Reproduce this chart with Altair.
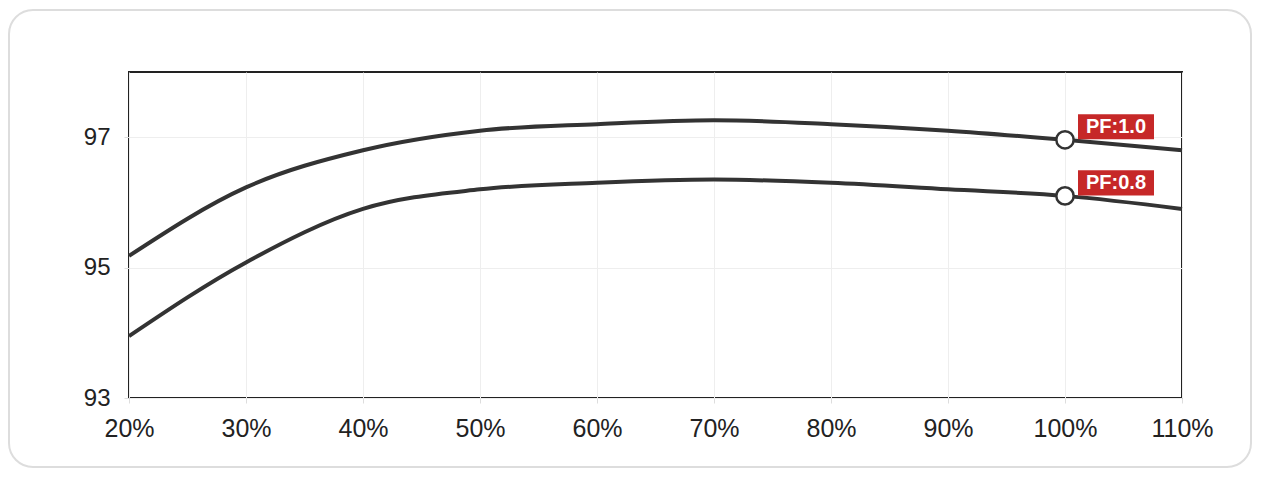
import altair as alt
import pandas as pd

load = [20, 30, 40, 50, 60, 70, 80, 90, 100, 110]
pf10 = [95.18, 96.23, 96.80, 97.10, 97.20, 97.26, 97.20, 97.10, 96.96, 96.80]
pf08 = [93.95, 95.08, 95.90, 96.20, 96.30, 96.35, 96.30, 96.20, 96.10, 95.90]
marker_load = [100, 100]
marker_val = [96.96, 96.10]
marker_text = ["PF:1.0", "PF:0.8"]

W, H = 1053, 326

rows = []
for x, a, b in zip(load, pf10, pf08):
    rows.append({"load": x, "eff": a, "series": "PF:1.0"})
    rows.append({"load": x, "eff": b, "series": "PF:0.8"})
df = pd.DataFrame(rows)
mk = pd.DataFrame({"load": marker_load, "eff": marker_val, "label": marker_text})

xs = alt.Scale(domain=[20, 110], nice=False, zero=False)
ys = alt.Scale(domain=[93, 98], nice=False, zero=False)

xenc = alt.X("load:Q", scale=xs, title=None,
             axis=alt.Axis(values=load, labelExpr="datum.value + '%'", grid=True,
                           gridColor="#eeeeee", domain=False, tickColor="#dddddd",
                           tickSize=5, labelPadding=13, labelFontSize=25,
                           labelFlush=False,
                           labelColor="#222222", labelFont="Liberation Sans"))
yenc = alt.Y("eff:Q", scale=ys, title=None,
             axis=alt.Axis(values=[93, 95, 97], format="d", grid=True, gridColor="#eeeeee",
                           domain=False, tickColor="#dddddd", tickSize=5,
                           labelPadding=14, labelFontSize=24, labelColor="#222222",
                           labelFlush=False,
                           labelFont="Liberation Sans"))

frame = alt.Chart(pd.DataFrame({"a": [0]})).mark_rect(
    fill="white", fillOpacity=0, stroke="#dddddd", strokeWidth=2,
    cornerRadius=24, clip=False
).encode(x=alt.value(-120), x2=alt.value(W + 69), y=alt.value(-62), y2=alt.value(H + 69))

lines = alt.Chart(df).mark_line(color="#333333", strokeWidth=4, interpolate="monotone").encode(
    x=xenc, y=yenc, detail="series:N")

dots = alt.Chart(mk).mark_point(shape="circle", filled=True, fill="white", stroke="#333333",
                                strokeWidth=2.5, size=300, opacity=1).encode(
    x=alt.X("load:Q", scale=xs), y=alt.Y("eff:Q", scale=ys))

tag = alt.Chart(mk).mark_point(
    shape="M-1,-0.33L1,-0.33L1,0.33L-1,0.33Z", filled=True, color="#c62828",
    opacity=1, size=5776, xOffset=51, yOffset=-13
).encode(x=alt.X("load:Q", scale=xs), y=alt.Y("eff:Q", scale=ys))

txt = alt.Chart(mk).mark_text(
    color="white", fontSize=20, fontWeight="bold", font="Liberation Sans", dx=51, dy=-13,
    align="center", baseline="middle"
).encode(x=alt.X("load:Q", scale=xs), y=alt.Y("eff:Q", scale=ys), text="label:N")

chart = alt.layer(frame, lines, dots, tag, txt).properties(
    width=W, height=H,
    autosize=alt.AutoSizeParams(type="none"),
    padding={"left": 121, "top": 64, "right": 71, "bottom": 71},
    background="white",
).configure_view(stroke="#222222", strokeWidth=2)

chart.save("out.html", embed_options={"renderer": "svg", "actions": False})
